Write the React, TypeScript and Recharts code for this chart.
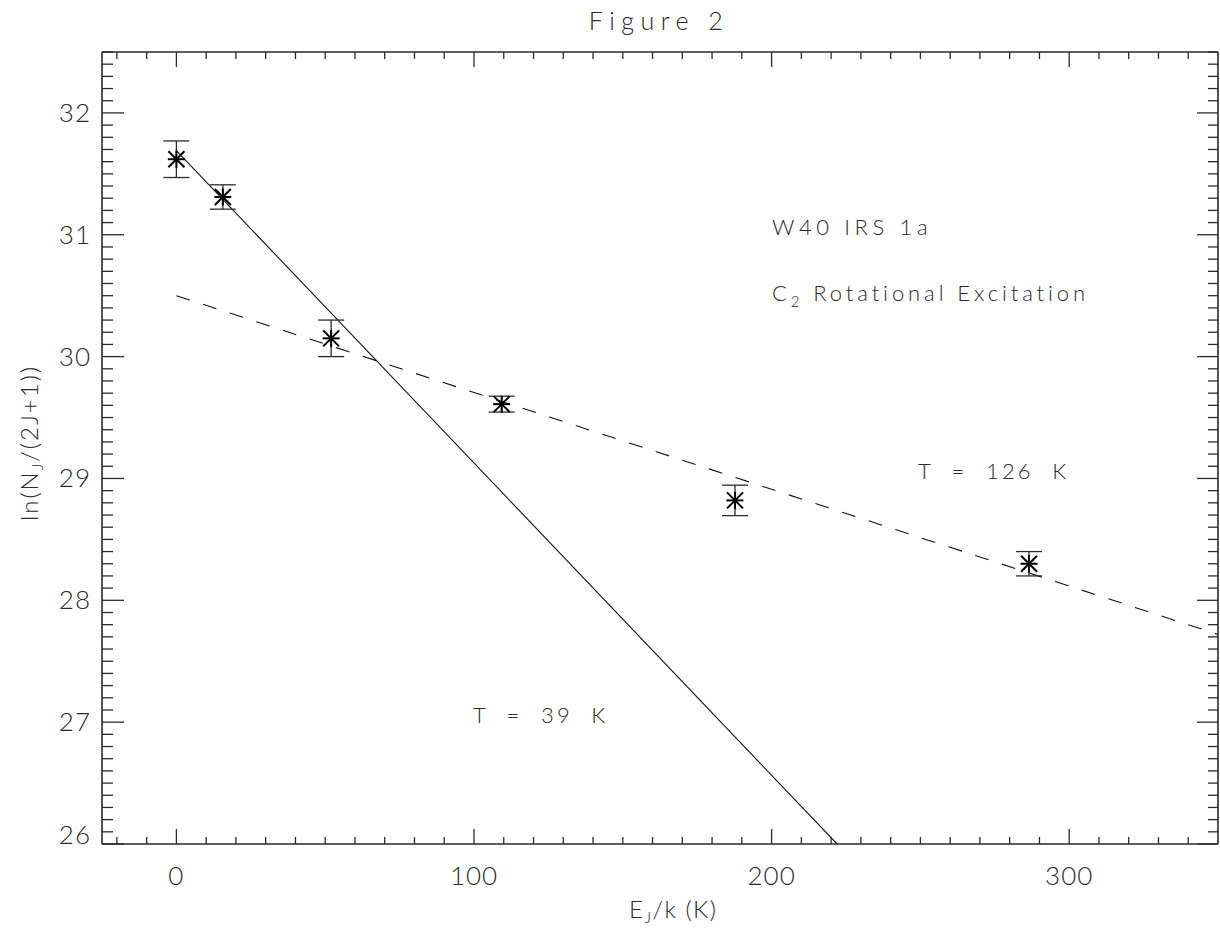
import React from 'react';
import { ComposedChart, XAxis, YAxis, Scatter, Line, ErrorBar, Customized } from 'recharts';

// Measured C2 level energies (E_J/k, K) and ln(N_J/(2J+1)) with errors
const energies = [0, 15.6, 52.0, 109.3, 187.7, 286.5];
const lnValues = [31.62, 31.31, 30.15, 29.61, 28.82, 28.30];
const lnErrors = [0.15, 0.10, 0.15, 0.065, 0.125, 0.10];

// Fit lines (endpoints)
const coldFitE = [0, 222];
const coldFitV = [31.69, 26.0];
const warmFitE = [0, 350];
const warmFitV = [30.5, 27.72];

// Axis ticks
const xMajorTicks = [0, 100, 200, 300];
const xMinorTicks = Array.from({ length: 37 }, (_, i) => -20 + i * 10);
const yMajorTicks = [26, 27, 28, 29, 30, 31, 32];
const yMinorTicks = Array.from({ length: 66 }, (_, i) => Math.round((26 + i * 0.1) * 10) / 10);

const X_DOMAIN: [number, number] = [-25, 350];
const Y_DOMAIN: [number, number] = [26, 32.5];

const points = energies.map((e, i) => ({ e, v: lnValues[i], err: lnErrors[i] }));
const coldFit = coldFitE.map((e, i) => ({ e, v: coldFitV[i] }));
const warmFit = warmFitE.map((e, i) => ({ e, v: warmFitV[i] }));

const FONT = 'Lato, "DejaVu Sans", sans-serif';
const INK = '#2a2a2a';
const SP = '\u00a0';

const isMajor = (list: number[], v: number) => list.some((m) => Math.abs(m - v) < 1e-6);

const BottomTick = (props: any) => {
  const { x, y, payload } = props;
  const major = isMajor(xMajorTicks, payload.value);
  return (
    <g>
      <line x1={x} y1={y} x2={x} y2={y - (major ? 15 : 7)} stroke={INK} strokeWidth={1.3} />
      {major && (
        <text x={x} y={y + 41} textAnchor="middle" fontFamily={FONT} fontWeight={300} fontSize={26} letterSpacing={1} fill={INK}>
          {payload.value}
        </text>
      )}
    </g>
  );
};

const TopTick = (props: any) => {
  const { x, y, payload } = props;
  const major = isMajor(xMajorTicks, payload.value);
  return <line x1={x} y1={y} x2={x} y2={y + (major ? 15 : 7)} stroke={INK} strokeWidth={1.3} />;
};

const LeftTick = (props: any) => {
  const { x, y, payload } = props;
  const major = isMajor(yMajorTicks, payload.value);
  const shift = Math.abs(payload.value - 26) < 1e-6 ? -9 : 0;
  return (
    <g>
      <line x1={x} y1={y} x2={x + (major ? 22 : 11)} y2={y} stroke={INK} strokeWidth={1.3} />
      {major && (
        <text x={x - 11} y={y + 9 + shift} textAnchor="end" fontFamily={FONT} fontWeight={300} fontSize={26} letterSpacing={1} fill={INK}>
          {payload.value}
        </text>
      )}
    </g>
  );
};

const RightTick = (props: any) => {
  const { x, y, payload } = props;
  const major = isMajor(yMajorTicks, payload.value);
  return <line x1={x} y1={y} x2={x - (major ? 21 : 10)} y2={y} stroke={INK} strokeWidth={1.3} />;
};

const Star = (props: any) => {
  const { cx, cy } = props;
  const r = 8.5;
  const d = 8;
  return (
    <g stroke="#000" strokeWidth={2}>
      <line x1={cx - r} y1={cy} x2={cx + r} y2={cy} />
      <line x1={cx} y1={cy - r} x2={cx} y2={cy + r} />
      <line x1={cx - d} y1={cy - d} x2={cx + d} y2={cy + d} />
      <line x1={cx - d} y1={cy + d} x2={cx + d} y2={cy - d} />
    </g>
  );
};

const Annotations = () => {
  const common = { fontFamily: FONT, fontWeight: 300, fill: INK } as any;
  return (
    <g>
      <text x={659} y={30} textAnchor="middle" fontSize={25} letterSpacing={6.5} {...common}>
        Figure{SP}2
      </text>
      <text x={772} y={235} fontSize={22} letterSpacing={4.6} {...common}>
        W40{SP}IRS{SP}1a
      </text>
      <text x={772} y={301} fontSize={22} letterSpacing={3.9} {...common}>
        C
        <tspan fontSize={15} dy={6}>2</tspan>
        <tspan dy={-6}>{SP}Rotational{SP}Excitation</tspan>
      </text>
      <text x={918} y={479} fontSize={22} letterSpacing={3.2} {...common}>
        {`T${SP}${SP}=${SP}${SP}126${SP}${SP}K`}
      </text>
      <text x={473} y={723} fontSize={22} letterSpacing={3.2} {...common}>
        {`T${SP}${SP}=${SP}${SP}39${SP}${SP}K`}
      </text>
      <text x={629} y={918} fontSize={24} letterSpacing={1.5} {...common}>
        E
        <tspan fontSize={16} dy={5}>J</tspan>
        <tspan dy={-5}>{`/k${SP}(K)`}</tspan>
      </text>
      <text
        x={0}
        y={0}
        transform="translate(38, 443) rotate(-90)"
        textAnchor="middle"
        fontSize={24}
        letterSpacing={2}
        {...common}
      >
        ln(N
        <tspan fontSize={16} dy={5}>J</tspan>
        <tspan dy={-5}>/(2J+1))</tspan>
      </text>
    </g>
  );
};

export default function App() {
  return (
    <div style={{ position: 'absolute', left: 0, top: 0, width: 1220, height: 932, background: '#fff' }}>
      <ComposedChart width={1220} height={932} margin={{ top: 0, right: 0, bottom: 0, left: 0 }}>
        <XAxis
          xAxisId="b"
          type="number"
          dataKey="e"
          orientation="bottom"
          domain={X_DOMAIN}
          allowDataOverflow
          ticks={xMinorTicks}
          interval={0}
          height={88}
          tickSize={0}
          tickMargin={0}
          tickLine={false}
          axisLine={{ stroke: INK, strokeWidth: 1.6 }}
          tick={<BottomTick />}
        />
        <XAxis
          xAxisId="t"
          type="number"
          dataKey="e"
          orientation="top"
          domain={X_DOMAIN}
          allowDataOverflow
          ticks={xMinorTicks}
          interval={0}
          height={52}
          tickSize={0}
          tickMargin={0}
          tickLine={false}
          axisLine={{ stroke: INK, strokeWidth: 1.6 }}
          tick={<TopTick />}
        />
        <YAxis
          yAxisId="l"
          type="number"
          orientation="left"
          domain={Y_DOMAIN}
          allowDataOverflow
          ticks={yMinorTicks}
          interval={0}
          width={102}
          tickSize={0}
          tickMargin={0}
          tickLine={false}
          axisLine={{ stroke: INK, strokeWidth: 1.6 }}
          tick={<LeftTick />}
        />
        <YAxis
          yAxisId="r"
          type="number"
          orientation="right"
          domain={Y_DOMAIN}
          allowDataOverflow
          ticks={yMinorTicks}
          interval={0}
          width={2}
          tickSize={0}
          tickMargin={0}
          tickLine={false}
          axisLine={{ stroke: INK, strokeWidth: 1.6 }}
          tick={<RightTick />}
        />
        <Line
          xAxisId="b"
          yAxisId="l"
          data={coldFit}
          dataKey="v"
          type="linear"
          stroke="#111"
          strokeWidth={1.1}
          dot={false}
          activeDot={false}
          isAnimationActive={false}
        />
        <Line
          xAxisId="b"
          yAxisId="l"
          data={warmFit}
          dataKey="v"
          type="linear"
          stroke="#111"
          strokeWidth={1.1}
          strokeDasharray="14 14"
          dot={false}
          activeDot={false}
          isAnimationActive={false}
        />
        <Scatter
          xAxisId="b"
          yAxisId="l"
          data={points}
          dataKey="v"
          shape={<Star />}
          isAnimationActive={false}
        >
          <ErrorBar dataKey="err" direction="y" width={13} stroke={INK} strokeWidth={1.3} />
        </Scatter>
        <Customized component={Annotations} />
      </ComposedChart>
    </div>
  );
}
